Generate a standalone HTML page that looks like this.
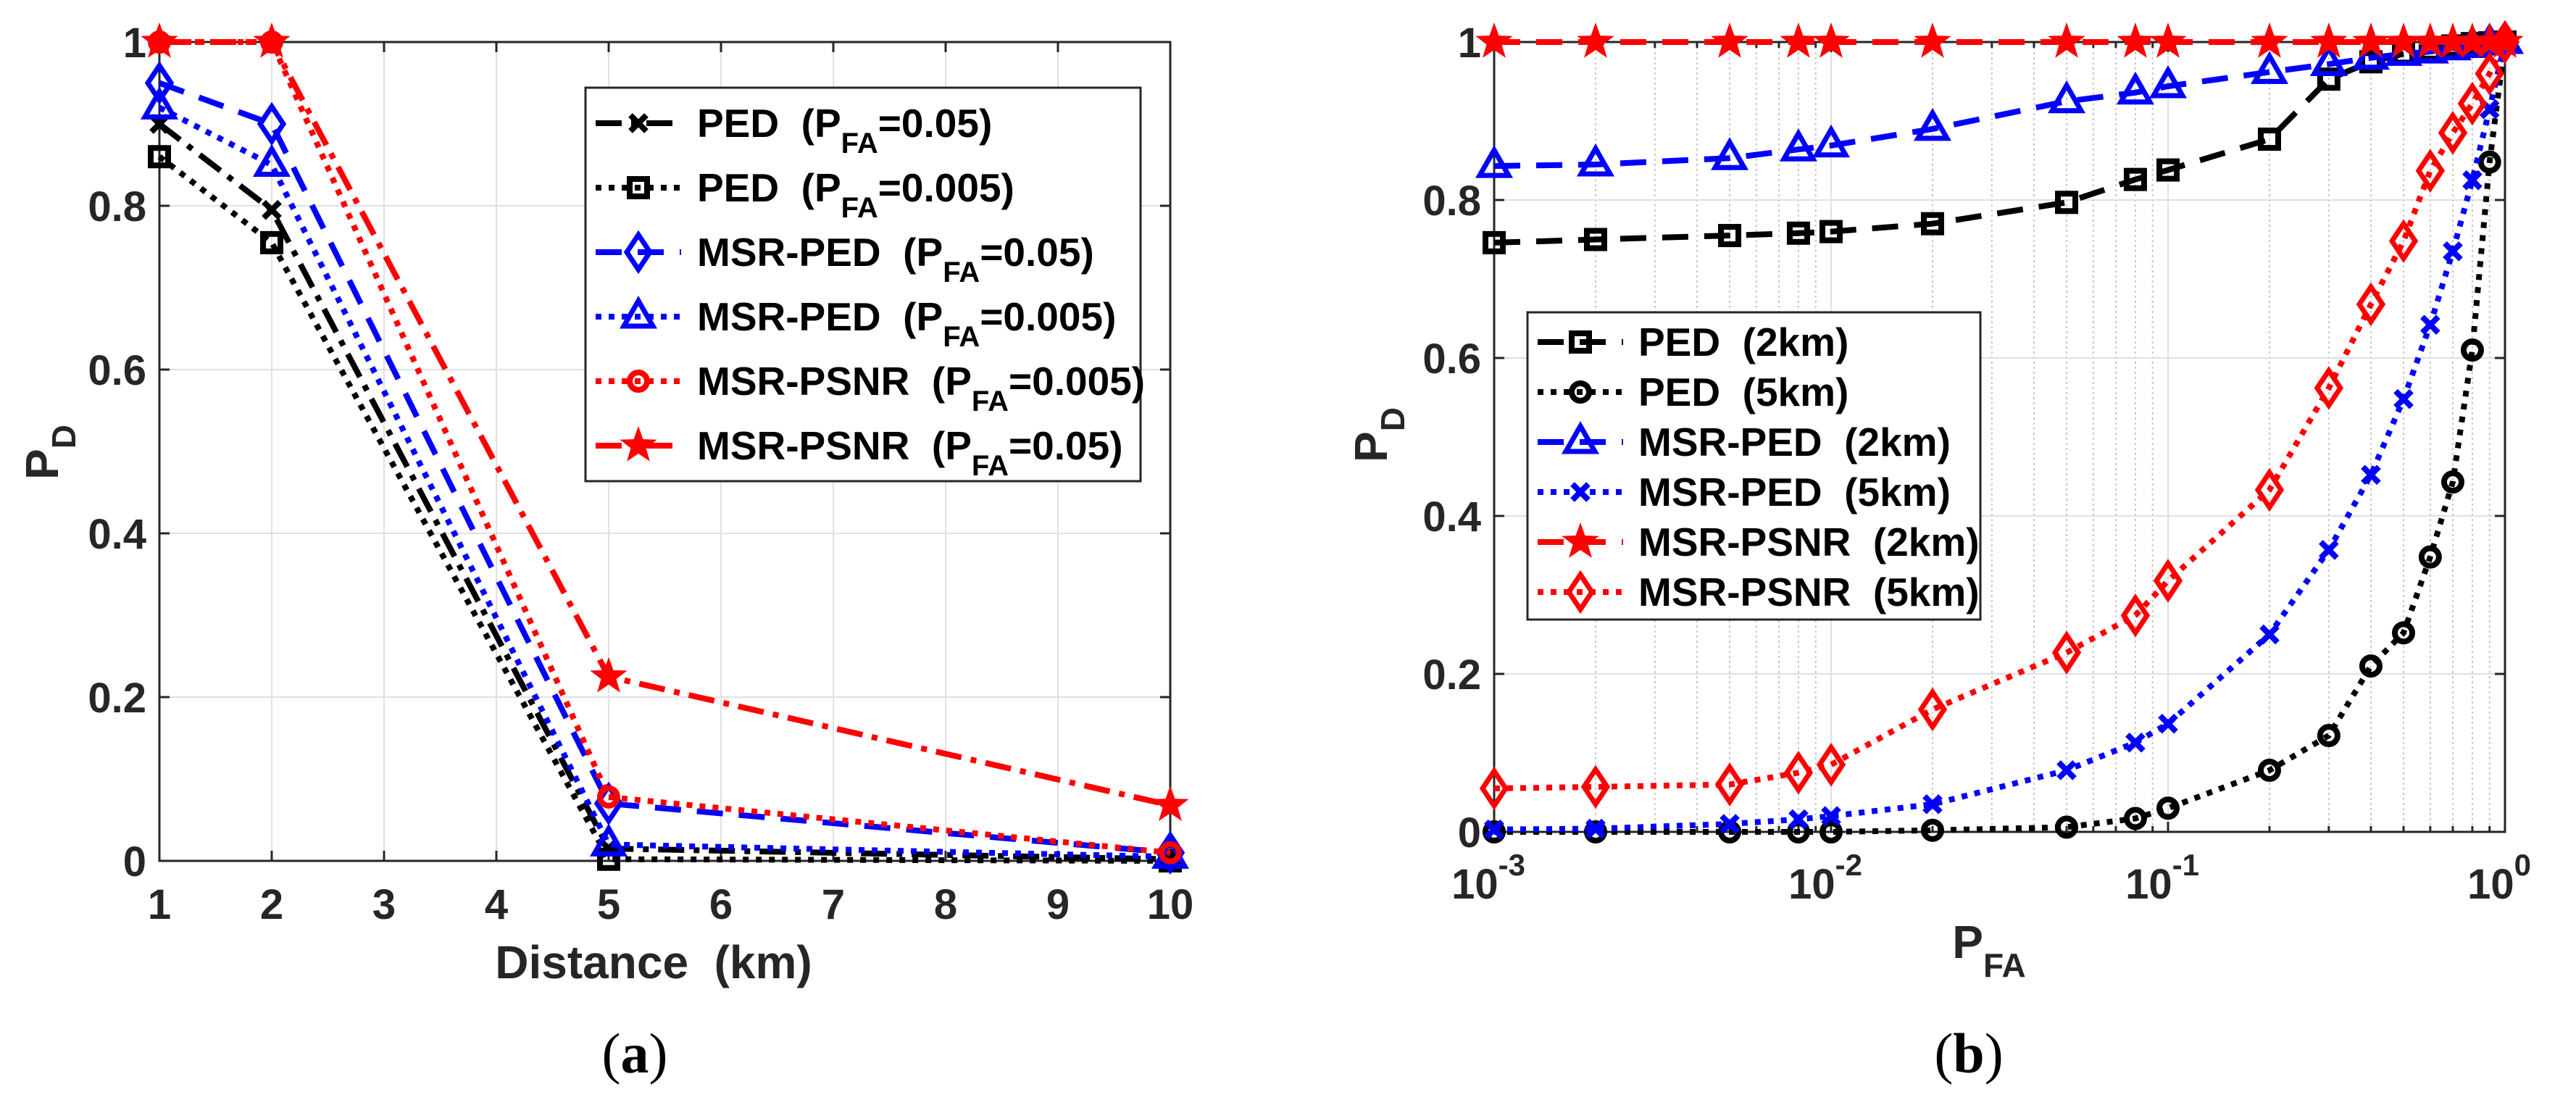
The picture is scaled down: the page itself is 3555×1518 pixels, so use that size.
<!DOCTYPE html>
<html><head><meta charset="utf-8"><style>
html,body{margin:0;padding:0;background:#fff}
svg{display:block}
text{font-family:"Liberation Sans",sans-serif;font-weight:bold;white-space:pre}
</style></head><body>
<svg id="fig" width="3555" height="1518" viewBox="0 0 3555 1518" xmlns="http://www.w3.org/2000/svg" xml:space="preserve"></svg>
<script>
// ---- Panel (a) data ----
const aDist = [1, 2, 5, 10];
const aPedHi = [0.90, 0.795, 0.015, 0.002];
const aPedLo = [0.86, 0.755, 0.002, 0.0];
const aMsrPedHi = [0.95, 0.90, 0.07, 0.01];
const aMsrPedLo = [0.92, 0.85, 0.02, 0.005];
const aPsnrLo = [1.0, 1.0, 0.078, 0.01];
const aPsnrHi = [1.0, 1.0, 0.225, 0.068];
const aXTicks = [1,2,3,4,5,6,7,8,9,10];
const yTicks = [0, 0.2, 0.4, 0.6, 0.8, 1];
const yTickLabels = ["0","0.2","0.4","0.6","0.8","1"];
// ---- Panel (b) data ----
const bPfa = [0.001,0.002,0.005,0.008,0.01,0.02,0.05,0.08,0.1,0.2,0.3,0.4,0.5,0.6,0.7,0.8,0.9,1.0];
const bPed2 = [0.746,0.750,0.755,0.758,0.760,0.770,0.797,0.826,0.838,0.877,0.953,0.975,0.985,0.990,0.995,0.998,0.999,1];
const bPed5 = [0,0,0,0,0,0.002,0.006,0.017,0.03,0.078,0.122,0.21,0.252,0.348,0.443,0.61,0.848,1];
const bMsrPed2 = [0.843,0.845,0.853,0.864,0.869,0.89,0.925,0.936,0.944,0.962,0.972,0.98,0.985,0.988,0.992,0.995,0.998,1];
const bMsrPed5 = [0.003,0.004,0.01,0.016,0.02,0.035,0.078,0.113,0.137,0.25,0.357,0.452,0.548,0.642,0.735,0.825,0.915,1];
const bPsnr2 = [1,1,1,1,1,1,1,1,1,1,1,1,1,1,1,1,1,1];
const bPsnr5 = [0.055,0.057,0.06,0.075,0.085,0.155,0.227,0.274,0.318,0.433,0.562,0.668,0.748,0.837,0.885,0.922,0.96,1];
const bDecades = [-3,-2,-1,0];

const NS="http://www.w3.org/2000/svg";
const svg=document.getElementById('fig');
function mk(tag,attrs,parent){const e=document.createElementNS(NS,tag);for(const k in attrs)e.setAttribute(k,attrs[k]);(parent||svg).appendChild(e);return e;}

const DASH={dashed:"36 22",dotted:"8 10",dashdot:"36 13 8 13",solid:""};
function marker(g,type,x,y,color){
  let m;
  const sw=7;
  if(type==='x'){m=mk('path',{d:`M${x-11},${y-11}L${x+11},${y+11}M${x-11},${y+11}L${x+11},${y-11}`,stroke:color,'stroke-width':8,fill:'none'},g);}
  else if(type==='square'){m=mk('rect',{x:x-12,y:y-12,width:24,height:24,stroke:color,'stroke-width':sw+1,fill:'none'},g);}
  else if(type==='diamond'){m=mk('path',{d:`M${x},${y-24}L${x+16},${y}L${x},${y+24}L${x-16},${y}Z`,stroke:color,'stroke-width':sw,fill:'none'},g);}
  else if(type==='triangle'){m=mk('path',{d:`M${x},${y-22}L${x+20},${y+13}L${x-20},${y+13}Z`,stroke:color,'stroke-width':sw,fill:'none','stroke-linejoin':'miter'},g);}
  else if(type==='circle'){m=mk('circle',{cx:x,cy:y,r:12,stroke:color,'stroke-width':sw+1,fill:'none'},g);}
  else if(type==='star'){let d='';for(let i=0;i<10;i++){const r=i%2?11:27;const a=-Math.PI/2+i*Math.PI/5;d+=(i?'L':'M')+(x+r*Math.cos(a)).toFixed(1)+','+(y+r*Math.sin(a)).toFixed(1);}m=mk('path',{d:d+'Z',fill:color,stroke:'none'},g);}
  return m;
}

function drawPanel(P){
  const g=mk('g',{});
  
  
  const {L,R,T,B}=P;
  const sx=P.sx, sy=v=>B-(B-T)*v;
  const grid=mk('g',{},g);
  
  
  P.minorX.forEach(x=>{const X=sx(x);mk('line',{x1:X,x2:X,y1:T,y2:B,stroke:'#c8c8c8','stroke-width':2,'stroke-dasharray':'3 4'},grid);});
  P.majorX.forEach(x=>{const X=sx(x);mk('line',{x1:X,x2:X,y1:T,y2:B,stroke:'#e0e0e0','stroke-width':2},grid);});
  yTicks.forEach(v=>{const Y=sy(v);mk('line',{x1:L,x2:R,y1:Y,y2:Y,stroke:'#e0e0e0','stroke-width':2},grid);});
  const ax=mk('g',{},g);
  
  
  mk('rect',{x:L,y:T,width:R-L,height:B-T,fill:'none',stroke:'#262626','stroke-width':3},ax);
  P.majorX.forEach(x=>{const X=sx(x);mk('path',{d:`M${X},${B}v-14M${X},${T}v14`,stroke:'#262626','stroke-width':3},ax);});
  P.minorX.forEach(x=>{const X=sx(x);mk('path',{d:`M${X},${B}v-8M${X},${T}v8`,stroke:'#262626','stroke-width':3},ax);});
  yTicks.forEach(v=>{const Y=sy(v);mk('path',{d:`M${L},${Y}h14M${R},${Y}h-14`,stroke:'#262626','stroke-width':3},ax);});
  yTicks.forEach((v,i)=>{const t=mk('text',{x:L-18,y:sy(v)+21,'text-anchor':'end','font-size':58,fill:'#262626'},g);t.textContent=yTickLabels[i];
    
    });
  P.xLabels(g,sx,B);
  P.series.forEach(s=>{
    const sg=mk('g',{},g);
    
    
    const d=s.ys.map((y,i)=>(i?'L':'M')+sx(P.xs[i]).toFixed(1)+','+sy(y).toFixed(1)).join('');
    mk('path',{d,stroke:s.color,'stroke-width':8,fill:'none','stroke-dasharray':DASH[s.style]},sg);
    s.ys.forEach((y,i)=>marker(sg,s.marker,sx(P.xs[i]),sy(y),s.color));
  });
  const lg=mk('g',{},g);
  
  
  const Lg=P.legend;
  mk('rect',{x:Lg.x,y:Lg.y,width:Lg.w,height:Lg.h,fill:'#fff',stroke:'#262626','stroke-width':3},lg);
  P.series.forEach((s,i)=>{
    const eg=mk('g',{},lg);
    
    
    const cy=Lg.y0+i*Lg.dy;
    mk('line',{x1:Lg.x+14,x2:Lg.x+132,y1:cy,y2:cy,stroke:s.color,'stroke-width':8,'stroke-dasharray':DASH[s.style]},eg);
    marker(eg,s.marker,Lg.x+73,cy,s.color);
    const t=mk('text',{x:Lg.tx,y:cy+19,'font-size':55,fill:'#000'},eg);
    t.innerHTML=s.label;
  });
}

const sub=(a,b)=>`${a}(P<tspan dy="22" font-size="40">FA</tspan><tspan dy="-22">=${b})</tspan>`;
const aL=220,aR=1615;
drawPanel({name:'panel-a',L:aL,R:aR,T:58,B:1188,
  sx:v=>aL+(aR-aL)*(v-1)/9, xs:aDist, majorX:aXTicks, minorX:[],
  xLabels:(g,sx,B)=>{aXTicks.forEach(v=>{const t=mk('text',{x:sx(v),y:B+80,'text-anchor':'middle','font-size':58,fill:'#262626'},g);t.textContent=v;
    
    });},
  series:[
    {id:'series-ped-005',ys:aPedHi,color:'#000',style:'dashdot',marker:'x',label:sub('PED  ','0.05')},
    {id:'series-ped-0005',ys:aPedLo,color:'#000',style:'dotted',marker:'square',label:sub('PED  ','0.005')},
    {id:'series-msr-ped-005',ys:aMsrPedHi,color:'#0000ff',style:'dashed',marker:'diamond',label:sub('MSR-PED  ','0.05')},
    {id:'series-msr-ped-0005',ys:aMsrPedLo,color:'#0000ff',style:'dotted',marker:'triangle',label:sub('MSR-PED  ','0.005')},
    {id:'series-msr-psnr-0005',ys:aPsnrLo,color:'#ff0000',style:'dotted',marker:'circle',label:sub('MSR-PSNR  ','0.005')},
    {id:'series-msr-psnr-005',ys:aPsnrHi,color:'#ff0000',style:'dashdot',marker:'star',label:sub('MSR-PSNR  ','0.05')}
  ],
  legend:{x:808,y:121,w:766,h:543,y0:170,dy:89,tx:962}
});
const bL=2062,bR=3457;
const minorB=[];bDecades.slice(0,3).forEach(d=>{for(let k=2;k<10;k++)minorB.push(k*Math.pow(10,d));});
drawPanel({name:'panel-b',L:bL,R:bR,T:58,B:1148,
  sx:v=>bL+(bR-bL)*(Math.log10(v)+3)/3, xs:bPfa, majorX:bDecades.map(d=>Math.pow(10,d)), minorX:minorB,
  xLabels:(g,sx,B)=>{bDecades.forEach(d=>{const t=mk('text',{x:sx(Math.pow(10,d))-8,y:B+92,'text-anchor':'middle','font-size':58,fill:'#262626'},g);t.innerHTML=`10<tspan dy="-32" font-size="42">${d}</tspan>`;
    
    });},
  series:[
    {id:'series-ped-2km',ys:bPed2,color:'#000',style:'dashed',marker:'square',label:'PED  (2km)'},
    {id:'series-ped-5km',ys:bPed5,color:'#000',style:'dotted',marker:'circle',label:'PED  (5km)'},
    {id:'series-msr-ped-2km',ys:bMsrPed2,color:'#0000ff',style:'dashed',marker:'triangle',label:'MSR-PED  (2km)'},
    {id:'series-msr-ped-5km',ys:bMsrPed5,color:'#0000ff',style:'dotted',marker:'x',label:'MSR-PED  (5km)'},
    {id:'series-msr-psnr-2km',ys:bPsnr2,color:'#ff0000',style:'dashed',marker:'star',label:'MSR-PSNR  (2km)'},
    {id:'series-msr-psnr-5km',ys:bPsnr5,color:'#ff0000',style:'dotted',marker:'diamond',label:'MSR-PSNR  (5km)'}
  ],
  legend:{x:2108,y:431,w:625,h:424,y0:472,dy:69,tx:2261}
});
</script>
<div style="position:absolute;left:0;top:0;width:3555px;height:1518px;pointer-events:none">
<svg width="3555" height="1518" style="position:absolute;left:0;top:0" xmlns="http://www.w3.org/2000/svg" xml:space="preserve">
  <text transform="translate(80,624) rotate(-90)" text-anchor="middle" font-size="64" fill="#262626" style="font-family:'Liberation Sans',sans-serif;font-weight:bold">P<tspan dy="24" font-size="46">D</tspan></text>
  <text x="902" y="1350" text-anchor="middle" font-size="64" fill="#262626" style="font-family:'Liberation Sans',sans-serif;font-weight:bold">Distance  (km)</text>
  <text x="876" y="1480" text-anchor="middle" font-size="78" fill="#000" style="font-family:'Liberation Serif',serif;font-weight:normal">(<tspan font-weight="bold">a</tspan>)</text>
  <text transform="translate(1914,600) rotate(-90)" text-anchor="middle" font-size="64" fill="#262626" style="font-family:'Liberation Sans',sans-serif;font-weight:bold">P<tspan dy="24" font-size="46">D</tspan></text>
  <text x="2745" y="1322" text-anchor="middle" font-size="64" fill="#262626" style="font-family:'Liberation Sans',sans-serif;font-weight:bold">P<tspan dy="26" font-size="46">FA</tspan></text>
  <text x="2717" y="1480" text-anchor="middle" font-size="78" fill="#000" style="font-family:'Liberation Serif',serif;font-weight:normal">(<tspan font-weight="bold">b</tspan>)</text>
</svg></div>
</body></html>
